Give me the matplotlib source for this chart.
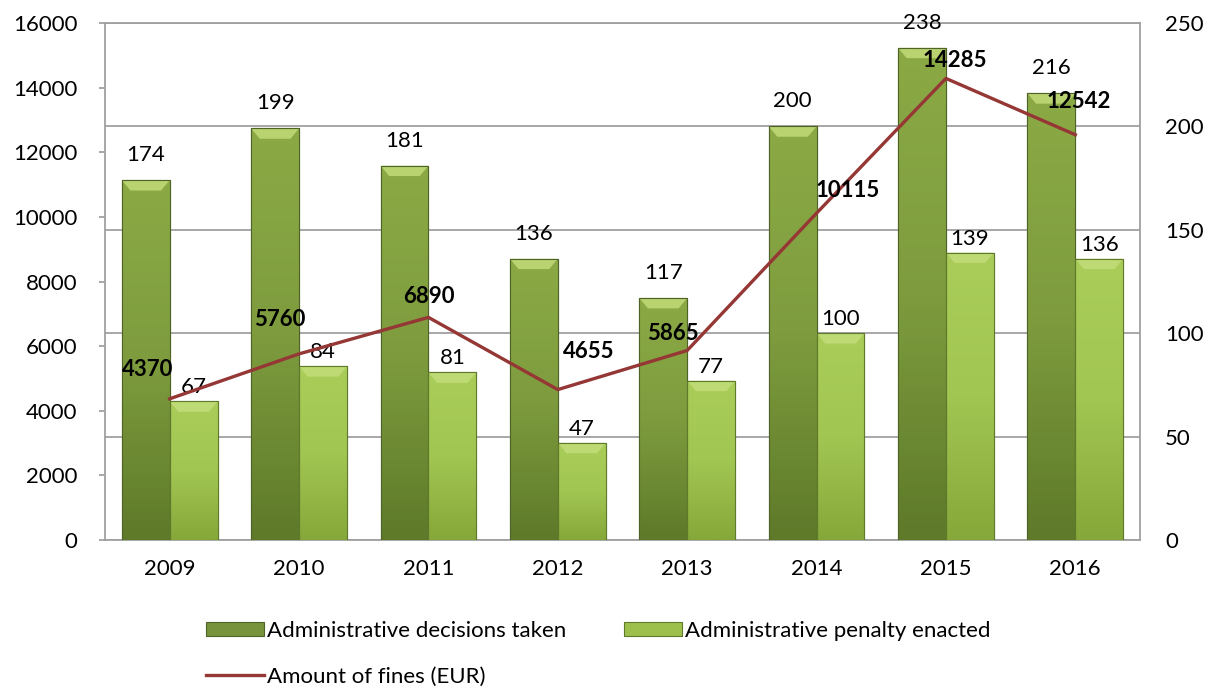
import numpy as np
import matplotlib
matplotlib.use("Agg")
import matplotlib.pyplot as plt
from matplotlib.colors import LinearSegmentedColormap
from matplotlib.patches import Patch, Polygon
from matplotlib.lines import Line2D

years = ["2009", "2010", "2011", "2012", "2013", "2014", "2015", "2016"]
decisions = [174, 199, 181, 136, 117, 200, 238, 216]
penalties = [67, 84, 81, 47, 77, 100, 139, 136]
fines = [4370, 5760, 6890, 4655, 5865, 10115, 14285, 12542]

# label offsets (pixels) for the fines labels, relative to each line point
fine_label_dx = [-22, -19, 0, 31, -14, 31, 9, 3]
fine_label_dy = [29, 34, 21, 38, 17, 23, 18, 33]

plt.rcParams['font.family'] = ['Lato', 'DejaVu Sans']
FS = 16

fig = plt.figure(figsize=(12.15, 6.91), dpi=100)
ax = fig.add_axes([105/1215, 151/691, (1140-105)/1215, (540-23)/691])
ax2 = ax.twinx()

x = np.arange(len(years))
w = 0.37
dark = '#77933C'
light = '#9DC04C'

cm_dark = LinearSegmentedColormap.from_list('d', ['#5E7A2A', '#7E9C3E', '#8BAA45'])
cm_light = LinearSegmentedColormap.from_list('l', ['#86A83A', '#A2C652', '#AACD5A'])
grad = np.linspace(0, 1, 100).reshape(-1, 1)

def draw_bars(xs, vals, color, cmap, edge):
    bars = ax.bar(xs, vals, width=w, color=color, edgecolor=edge, linewidth=0.8, zorder=3)
    for b in bars:
        x0, y0 = b.get_x(), b.get_y()
        bw, bh = b.get_width(), b.get_height()
        im = ax.imshow(grad, extent=[x0, x0 + bw, 0, bh], origin='lower', aspect='auto',
                       cmap=cmap, zorder=3.1)
        im.set_clip_path(b)
        t = 5.0
        inset = bw * 0.18
        poly = Polygon([[x0, bh], [x0 + bw, bh], [x0 + bw - inset, bh - t], [x0 + inset, bh - t]],
                       closed=True, facecolor='#C4DE7C', edgecolor='none', alpha=0.8, zorder=3.2)
        ax.add_patch(poly)
        ax.add_patch(Polygon([[x0, y0], [x0 + bw, y0], [x0 + bw, bh], [x0, bh]], closed=True,
                             facecolor='none', edgecolor=edge, linewidth=0.8, zorder=3.3))
    return bars

b1 = draw_bars(x - w/2, decisions, dark, cm_dark, '#4F6228')
b2 = draw_bars(x + w/2, penalties, light, cm_light, '#5E7A2A')

px = 0.72  # points per pixel
for xi, v in zip(x - w/2, decisions):
    ax.annotate(str(v), (xi, v), xytext=(0, 25 * px), textcoords='offset points',
                ha='center', va='center', fontsize=FS, zorder=5)
for xi, v in zip(x + w/2, penalties):
    ax.annotate(str(v), (xi, v), xytext=(0, 14 * px), textcoords='offset points',
                ha='center', va='center', fontsize=FS, zorder=5)

ax.set_xlim(-0.5, len(years) - 0.5)
ax.set_ylim(0, 250)
ax.set_yticks(np.arange(0, 251, 50))
ax.yaxis.tick_right()
ax.yaxis.grid(True, color='#A0A0A0', linewidth=1.3, zorder=0)
ax.set_axisbelow(True)
ax.tick_params(axis='y', length=0, labelsize=FS, pad=18)
ax.set_xticks(x)
ax.set_xticklabels(years)
ax.tick_params(axis='x', length=0, labelsize=FS, pad=14)
for s in ['left', 'right', 'bottom', 'top']:
    ax.spines[s].set_color('#A0A0A0')
    ax.spines[s].set_linewidth(1.3)

line, = ax2.plot(x, fines, color='#953735', linewidth=2.4, zorder=4)
ax2.set_ylim(0, 16000)
ax2.set_yticks(np.arange(0, 16001, 2000))
ax2.yaxis.tick_left()
ax2.tick_params(axis='y', length=4, color='#A0A0A0', width=1.3, labelsize=FS, pad=16)
for s in ['left', 'right', 'bottom', 'top']:
    ax2.spines[s].set_visible(False)
for xi, v, dx, dy in zip(x, fines, fine_label_dx, fine_label_dy):
    ax2.annotate(str(v), (xi, v), xytext=(dx * px, dy * px), textcoords='offset points',
                 ha='center', va='center', fontsize=FS, fontweight='bold', zorder=6)

h1 = Patch(facecolor=dark, edgecolor='#4F6228', linewidth=0.8)
h2 = Patch(facecolor=light, edgecolor='#5E7A2A', linewidth=0.8)
h3 = Line2D([], [], color='#953735', linewidth=2.4)
fig.legend([h1, h3, h2],
           ['Administrative decisions taken', 'Amount of fines (EUR)', 'Administrative penalty enacted'],
           ncol=2, loc='upper left', bbox_to_anchor=(195/1215, 1 - 610/691), frameon=False,
           fontsize=FS, handlelength=2.6, handleheight=0.6, handletextpad=0.15,
           columnspacing=2.6, labelspacing=1.15, borderpad=0)

fig.savefig('out.png', dpi=100)
